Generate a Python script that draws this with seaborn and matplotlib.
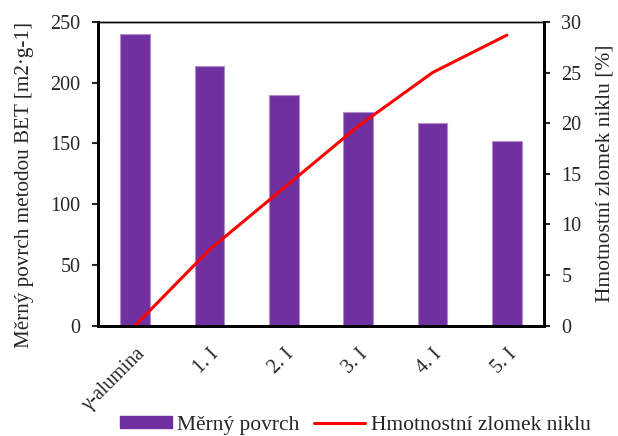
import matplotlib
matplotlib.use("Agg")
import matplotlib.pyplot as plt
import seaborn as sns
import pandas as pd
from matplotlib.patches import Patch
from matplotlib.lines import Line2D

categories = ["γ-alumina", "1. I", "2. I", "3. I", "4. I", "5. I"]
surface = [240, 214, 190, 176, 167, 152]
nickel = [0, 7.5, 13.6, 19.7, 25.0, 28.7]

sns.set_theme(style="white")
plt.rcParams['font.family'] = ['Liberation Serif', 'DejaVu Serif']

df = pd.DataFrame({"cat": categories, "surface": surface, "nickel": nickel})

fig = plt.figure(figsize=(6.18, 4.36), dpi=100)
ax = fig.add_axes([98/618, 1-325.5/436, 446/618, 303.5/436])

sns.barplot(data=df, x="cat", y="surface", ax=ax, color="#7030A0",
            width=0.4, saturation=1, edgecolor="#B08CCB", linewidth=0.8)
ax.set_xlim(-0.5, 5.5)
ax.set_ylim(0, 250)
ax.set_yticks([0, 50, 100, 150, 200, 250])
ax.set_xlabel("")
ax.set_ylabel("Měrný povrch metodou BET [m2·g-1]", fontsize=15.2, labelpad=12)
ax.yaxis.label.set_y(0.463)
ax.tick_params(axis='y', direction='out', length=4.5, width=1.5, labelsize=14.5, left=True, pad=8)
ax.tick_params(axis='x', length=0, labelsize=14.5, pad=14)
for lab in ax.get_xticklabels():
    lab.set_rotation(45)
    lab.set_ha('right')
    lab.set_rotation_mode('anchor')

ax2 = ax.twinx()
sns.lineplot(x=list(range(len(categories))), y=nickel, ax=ax2, color="#FF0000", linewidth=2.2)
ax2.set_ylim(0, 30)
ax2.set_yticks([0, 5, 10, 15, 20, 25, 30])
ax2.set_ylabel("Hmotnostní zlomek niklu [%]", fontsize=15.5, labelpad=10)
ax2.tick_params(axis='y', direction='out', length=4.5, width=1.5, labelsize=14.5, right=True, pad=8)

for a in (ax, ax2):
    for s in ("left", "bottom", "right"):
        a.spines[s].set_linewidth(2)
        a.spines[s].set_color("black")
    a.spines["top"].set_linewidth(1)
    a.spines["top"].set_color("black")

handles = [Patch(facecolor="#7030A0", edgecolor="#7030A0"),
           Line2D([0], [0], color="#FF0000", linewidth=2.2)]
fig.legend(handles, ["Měrný povrch", "Hmotnostní zlomek niklu"],
           loc="center", bbox_to_anchor=(0.575, 1-425/436), ncol=2, frameon=False,
           fontsize=15.5, handlelength=2.4, handleheight=0.5, columnspacing=0.65,
           handletextpad=0.25, borderaxespad=0, borderpad=0)

fig.savefig("out.png", dpi=100)
